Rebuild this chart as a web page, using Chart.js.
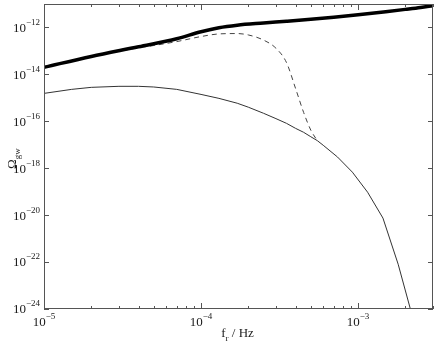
<!DOCTYPE html>
<html>
<head>
<meta charset="utf-8">
<script src="https://cdn.jsdelivr.net/npm/chart.js@4/dist/chart.umd.min.js"></script>
<style>
  html, body { margin: 0; padding: 0; background: #fff; }
  #wrap { width: 436px; height: 345px; }
</style>
</head>
<body>
<div id="wrap"><canvas id="c"></canvas></div>
<script>
// --- data (f in Hz, Omega_gw) ---
const freqTotal = [1e-5, 2e-5, 4e-5, 7e-5, 1e-4, 1.3e-4, 1.7e-4, 2.5e-4, 3.5e-4,
  5e-4, 7e-4, 1e-3, 1.5e-3, 2e-3, 2.5e-3, 3e-3];
const omegaTotal = [2.0e-14, 5.8e-14, 1.5e-13, 3.3e-13, 6.6e-13, 9.8e-13, 1.25e-12, 1.55e-12, 1.85e-12,
  2.25e-12, 2.75e-12, 3.5e-12, 4.7e-12, 5.9e-12, 7.1e-12, 8.5e-12];

const freqBump = [1e-5, 2e-5, 3e-5, 4e-5, 5e-5, 7e-5, 1e-4, 1.3e-4, 1.7e-4, 2e-4, 2.5e-4, 3e-4, 3.5e-4,
  4e-4, 4.5e-4, 5e-4, 5.5e-4];
const omegaBump = [2.0e-14, 5.8e-14, 9.8e-14, 1.35e-13, 1.7e-13, 2.5e-13, 4.1e-13, 5.3e-13, 5.5e-13, 4.8e-13, 2.9e-13, 1.3e-13, 3.2e-14,
  2.5e-15, 2.4e-16, 4.2e-17, 1.5e-17];

const freqBase = [1e-5, 1.5e-5, 2e-5, 3e-5, 4e-5, 5e-5, 7e-5, 1e-4, 1.3e-4, 1.7e-4, 2e-4, 2.5e-4, 3e-4, 3.5e-4,
  4e-4, 4.5e-4, 5e-4, 5.5e-4, 6e-4, 7.4e-4, 9.2e-4, 1.15e-3, 1.44e-3, 1.8e-3, 2.25e-3];
const omegaBase = [1.55e-15, 2.3e-15, 2.8e-15, 3.1e-15, 3.1e-15, 2.9e-15, 2.3e-15, 1.4e-15, 9.5e-16, 5.9e-16, 4.0e-16, 2.2e-16, 1.3e-16, 8.2e-17,
  5.0e-17, 3.4e-17, 2.2e-17, 1.5e-17, 9.5e-18, 3.0e-18, 6.8e-19, 9.5e-20, 7.5e-21, 8.1e-23, 3.4e-25];

// tick labels (exponents of ten)
const xTickExps = [-5, -4, -3];
const yTickExps = [-24, -22, -20, -18, -16, -14, -12];

const FONT = '"Liberation Serif", "Times New Roman", serif';
const INK = '#1a1a1a';

function pts(xs, ys) {
  return xs.map((x, i) => ({ x, y: ys[i] }));
}

// draws "10" with a raised exponent; anchor is the centre (align 'center') or right edge
function drawPow(ctx, exp, x, y, align) {
  const base = '10', sup = '\u2212' + Math.abs(exp);
  ctx.font = '13px ' + FONT;
  const wb = ctx.measureText(base).width;
  ctx.font = '9px ' + FONT;
  const ws = ctx.measureText(sup).width;
  const w = wb + ws;
  const x0 = align === 'right' ? x - w : x - w / 2;
  ctx.textBaseline = 'middle';
  ctx.textAlign = 'left';
  ctx.font = '13px ' + FONT;
  ctx.fillText(base, x0, y);
  ctx.font = '9px ' + FONT;
  ctx.fillText(sup, x0 + wb, y - 6);
}

// --- frame, inward ticks and labels ---
const framePlugin = {
  id: 'frame',
  afterDraw(chart) {
    const { ctx, chartArea: a, scales: { x, y } } = chart;
    ctx.save();
    ctx.strokeStyle = '#555';
    ctx.lineWidth = 1;
    ctx.strokeRect(Math.round(a.left) + 0.5, Math.round(a.top) + 0.5,
      Math.round(a.right - a.left) - 1, Math.round(a.bottom - a.top) - 1);

    ctx.beginPath();
    for (let e = -5; e <= -3; e++) {
      for (let m = 1; m <= 9; m++) {
        const v = m * Math.pow(10, e);
        if (v < x.min * 0.999 || v > x.max * 1.001) continue;
        const px = Math.round(x.getPixelForValue(v)) + 0.5;
        const len = m === 1 ? 6 : 3;
        ctx.moveTo(px, a.bottom); ctx.lineTo(px, a.bottom - len);
        ctx.moveTo(px, a.top); ctx.lineTo(px, a.top + len);
      }
    }
    yTickExps.forEach(e => {
      const py = Math.round(y.getPixelForValue(Math.pow(10, e))) + 0.5;
      ctx.moveTo(a.left, py); ctx.lineTo(a.left + 5, py);
      ctx.moveTo(a.right, py); ctx.lineTo(a.right - 5, py);
    });
    ctx.stroke();

    ctx.fillStyle = INK;
    yTickExps.forEach(e => {
      const py = y.getPixelForValue(Math.pow(10, e));
      drawPow(ctx, e, a.left - 4, py + 1, 'right');
    });
    xTickExps.forEach(e => {
      const px = x.getPixelForValue(Math.pow(10, e));
      drawPow(ctx, e, px, a.bottom + 14, 'center');
    });

    // x title: f_r / Hz
    const cx = (a.left + a.right) / 2;
    ctx.textBaseline = 'alphabetic';
    ctx.font = '13px ' + FONT;
    const wf = ctx.measureText('f').width;
    const wr = 5;
    const wt = ctx.measureText(' / Hz').width;
    let tx = cx - (wf + wr + wt) / 2;
    ctx.fillText('f', tx, 337);
    ctx.font = '9px ' + FONT;
    ctx.fillText('r', tx + wf, 341);
    ctx.font = '13px ' + FONT;
    ctx.fillText(' / Hz', tx + wf + 3, 337);

    // y title: Omega_gw, rotated
    ctx.translate(16, 169);
    ctx.rotate(-Math.PI / 2);
    ctx.font = '13px ' + FONT;
    ctx.fillText('\u03A9', 0, 0);
    const wo = ctx.measureText('\u03A9').width;
    ctx.font = '9px ' + FONT;
    ctx.fillText('gw', wo, 4);
    ctx.restore();
  }
};

new Chart(document.getElementById('c'), {
  type: 'line',
  data: {
    datasets: [
      {
        label: 'total',
        data: pts(freqTotal, omegaTotal),
        borderColor: '#000',
        borderWidth: 3.5,
        pointRadius: 0,
        cubicInterpolationMode: 'monotone',
      },
      {
        label: 'bump',
        data: pts(freqBump, omegaBump),
        borderColor: '#444',
        borderWidth: 1,
        borderDash: [5, 4],
        pointRadius: 0,
        cubicInterpolationMode: 'monotone',
      },
      {
        label: 'base',
        data: pts(freqBase, omegaBase),
        borderColor: '#333',
        borderWidth: 1,
        pointRadius: 0,
        tension: 0,
      },
    ],
  },
  options: {
    responsive: true,
    maintainAspectRatio: false,
    animation: false,
    layout: { padding: { left: 44, top: 4, right: 3, bottom: 36 } },
    scales: {
      x: {
        type: 'logarithmic',
        min: 1e-5,
        max: 3e-3,
        ticks: { display: false },
        grid: { display: false, drawTicks: false },
        border: { display: false },
      },
      y: {
        type: 'logarithmic',
        min: 1e-24,
        max: 1e-11,
        ticks: { display: false },
        grid: { display: false, drawTicks: false },
        border: { display: false },
      },
    },
    plugins: {
      legend: { display: false },
      tooltip: { enabled: false },
    },
  },
  plugins: [framePlugin],
});
</script>
</body>
</html>
